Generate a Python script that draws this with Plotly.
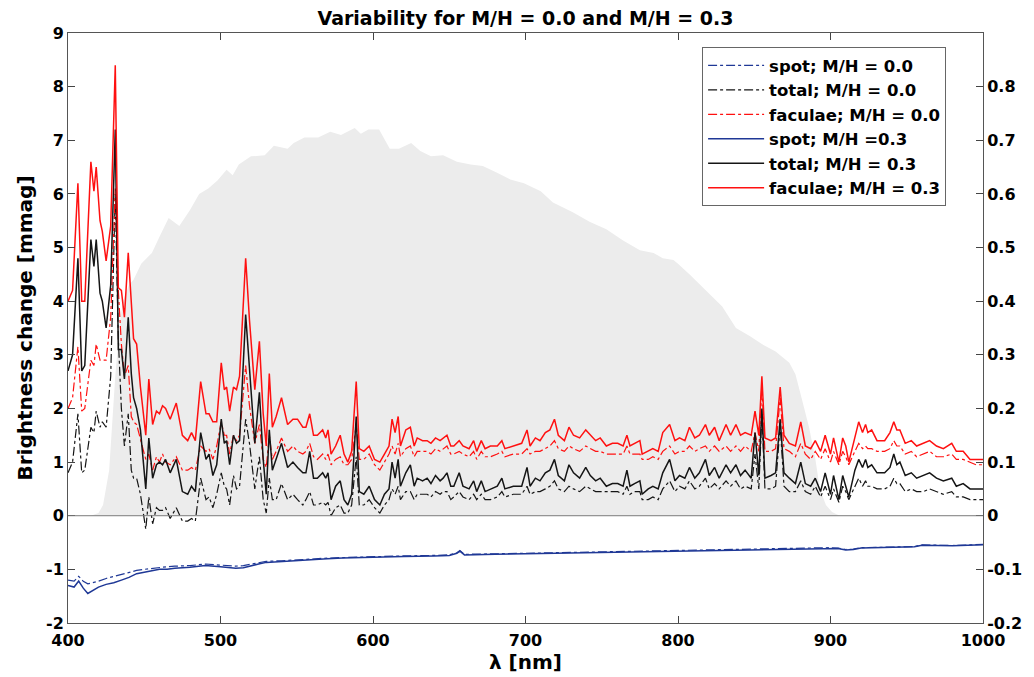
import plotly.graph_objects as go

# ---------------- data ----------------
wavelength = [
    400, 403, 406.5, 409, 411, 415, 417, 418.5, 421, 422.5, 425, 428, 431, 433, 435, 437, 439.5, 441.5, 443, 445,
    447.5, 451, 453, 455.5, 458, 460, 462, 464, 467, 471, 475, 478.5, 481, 483.5, 487, 490.5, 492.5, 495, 497.5,
    500.5, 502.5, 504, 506, 508.5, 510.5, 512.5, 516.5, 519, 522.5, 525.5, 528, 530, 532, 534, 536.5, 540, 544,
    547.5, 550.5, 554, 556, 558.5, 561, 563.5, 567, 569, 570.5, 572.5, 575.5, 578.5, 581, 583.5, 586, 589, 591, 594,
    597.5, 601, 604.5, 607.5, 610.5, 612.5, 614.5, 616.5, 618, 621.5, 624.5, 627, 629, 632.5, 635.5, 638, 641, 644,
    646, 648.5, 651, 653, 656.5, 659, 663, 666, 668, 671, 673.5, 677, 681.5, 684.5, 686.5,
    692, 697.5, 701, 703, 706.5, 709.5, 713, 716, 719, 721.5, 725.5, 728.5, 731.5, 735.5, 739.5, 742.5, 746, 749,
    753, 757, 760.5, 764, 766.5, 768.5, 771.5, 775, 776.5, 780.5, 783.5, 787, 790,
    794.5, 798, 801, 804.5, 807.5, 811, 814, 818, 820.5, 824, 827, 831.5, 834.5, 838, 841, 844, 848, 850.5, 853, 855,
    857, 861, 864, 867, 869.5, 873, 877, 880.5, 883.5, 887,
    890, 893.5, 896.5, 900, 902, 905.5, 908, 910, 912, 916, 918.5, 921, 923, 924.5, 927, 930.5, 935.5, 939, 941.5,
    943.5, 945.5, 949, 953, 956.5, 961, 965, 969.5, 974, 979.5, 982.5, 987, 991.5, 995.5, 1000,
]

faculae_03 = [
    4.0, 4.2, 6.2, 4.0, 4.0, 6.6, 6.05, 6.5, 5.5, 5.3, 4.75, 5.4, 8.4, 4.25, 4.2, 3.7, 4.9, 4.05, 3.3, 3.2,
    2.4, 1.5, 2.55, 1.7, 1.95, 1.9, 2.05, 2.0, 1.8, 2.1, 1.5, 1.4, 1.55, 1.4, 2.5, 1.9, 1.9, 1.75, 1.75,
    2.85, 2.35, 2.4, 1.95, 2.4, 2.35, 2.6, 4.8, 3.65, 2.35, 3.25, 1.9, 1.3, 2.65, 1.65, 1.85, 2.2, 1.7,
    1.8, 1.8, 1.65, 1.65, 1.9, 1.5, 1.5, 1.6, 1.45, 1.6, 1.15, 1.3, 1.5, 1.15, 1.0, 1.2, 2.5, 1.25, 1.2,
    1.3, 1.05, 1.0, 1.15, 1.3, 1.8, 1.55, 1.85, 1.3, 1.6, 1.65, 1.3, 1.45, 1.4, 1.4, 1.35, 1.45, 1.4,
    1.45, 1.5, 1.3, 1.3, 1.4, 1.3, 1.25, 1.4, 1.2, 1.4, 1.25, 1.3, 1.3, 1.4, 1.25,
    1.3, 1.35, 1.6, 1.3, 1.45, 1.4, 1.55, 1.6, 1.8, 1.5, 1.4, 1.65, 1.5, 1.45, 1.6, 1.5, 1.4, 1.45,
    1.3, 1.35, 1.35, 1.3, 1.5, 1.3, 1.35, 1.4, 1.15, 1.2, 1.25, 1.2, 1.55,
    1.7, 1.4, 1.45, 1.4, 1.65, 1.45, 1.5, 1.7, 1.5, 1.65, 1.4, 1.7, 1.5, 1.7, 1.5, 1.55, 1.5, 1.95, 1.5, 2.6,
    1.45, 1.4, 1.45, 2.4, 1.5, 1.35, 1.3, 1.75, 1.3, 1.25,
    1.4, 1.2, 1.5, 1.15, 1.45, 1.0, 1.45, 1.3, 1.0, 1.5, 1.75, 1.55, 1.7, 1.55, 1.6, 1.4, 1.4, 1.55, 1.75,
    1.6, 1.6, 1.35, 1.4, 1.3, 1.35, 1.4, 1.3, 1.25, 1.35, 1.2, 1.2, 1.05, 1.05, 1.05,
]

total_03 = [
    2.7, 3.0, 4.8, 2.7, 2.8, 5.15, 4.65, 5.15, 4.15, 4.0, 3.5, 4.3, 7.2, 3.1, 3.1, 2.55, 3.7, 2.65, 2.2, 2.0,
    1.6, 0.5, 1.45, 0.7, 0.95, 1.0, 0.95, 1.05, 0.8, 1.05, 0.45, 0.4, 0.55, 0.45, 1.55, 1.05, 1.15, 0.75, 0.95,
    1.8, 1.35, 1.4, 0.95, 1.5, 1.35, 1.4, 3.75, 2.7, 1.35, 2.3, 1.05, 0.4, 1.6, 0.85, 1.05, 1.35, 0.9,
    1.0, 0.9, 0.8, 0.8, 1.2, 0.7, 0.7, 0.8, 0.7, 0.8, 0.3, 0.55, 0.65, 0.3, 0.2, 0.4, 1.85, 0.45, 0.4,
    0.55, 0.3, 0.2, 0.4, 0.5, 1.0, 0.7, 1.05, 0.55, 0.8, 0.95, 0.55, 0.7, 0.65, 0.7, 0.6, 0.75, 0.65,
    0.7, 0.8, 0.55, 0.55, 0.8, 0.55, 0.5, 0.65, 0.45, 0.65, 0.45, 0.5, 0.55, 0.7, 0.5,
    0.55, 0.55, 0.9, 0.55, 0.7, 0.65, 0.8, 0.85, 1.05, 0.75, 0.65, 0.95, 0.8, 0.7, 0.9, 0.75, 0.65, 0.7,
    0.55, 0.6, 0.6, 0.55, 0.85, 0.55, 0.6, 0.65, 0.4, 0.5, 0.55, 0.5, 0.8,
    1.05, 0.65, 0.75, 0.7, 0.9, 0.7, 0.8, 1.05, 0.75, 0.9, 0.7, 0.95, 0.8, 0.95, 0.75, 0.85, 0.7, 1.55, 0.75, 2.0,
    0.7, 0.75, 0.8, 1.8, 0.8, 0.7, 0.6, 1.0, 0.6, 0.55,
    0.7, 0.45, 0.8, 0.4, 0.75, 0.3, 0.75, 0.55, 0.35, 0.85, 1.05, 0.9, 1.05, 0.9, 0.95, 0.8, 0.8, 0.9, 1.15,
    0.95, 1.0, 0.75, 0.8, 0.7, 0.75, 0.8, 0.7, 0.65, 0.7, 0.55, 0.6, 0.5, 0.5, 0.5,
]

faculae_00 = [
    2.0, 2.2, 3.15, 1.95, 2.0, 2.9, 2.8, 3.2, 2.9, 2.9, 2.9, 3.7, 6.1, 4.2, 3.2, 2.6, 2.8, 1.85, 1.75, 1.7,
    1.45, 1.05, 1.15, 0.85, 1.1, 1.0, 1.15, 1.0, 0.95, 1.1, 0.85, 0.85, 0.9, 0.85, 1.3, 1.2, 1.25, 1.05, 1.3,
    1.75, 1.5, 1.5, 1.15, 1.5, 1.4, 1.5, 2.8, 2.05, 1.35, 1.7, 1.05, 0.9, 1.5, 1.05, 1.2, 1.45, 1.2,
    1.3, 1.2, 1.15, 1.2, 1.35, 1.1, 1.05, 1.15, 1.05, 1.15, 0.95, 1.05, 1.1, 0.95, 0.95, 1.05, 1.7, 1.05, 1.05,
    1.15, 0.95, 0.85, 1.0, 1.15, 1.3, 1.15, 1.35, 1.1, 1.25, 1.3, 1.1, 1.2, 1.2, 1.2, 1.15, 1.25, 1.2,
    1.25, 1.3, 1.15, 1.15, 1.2, 1.15, 1.1, 1.2, 1.05, 1.2, 1.1, 1.1, 1.15, 1.2, 1.1,
    1.15, 1.15, 1.25, 1.15, 1.2, 1.2, 1.25, 1.3, 1.4, 1.25, 1.2, 1.3, 1.25, 1.2, 1.3, 1.25, 1.2, 1.2,
    1.15, 1.15, 1.15, 1.15, 1.3, 1.15, 1.15, 1.15, 1.05, 1.05, 1.1, 1.05, 1.2,
    1.3, 1.15, 1.2, 1.2, 1.3, 1.2, 1.25, 1.3, 1.2, 1.3, 1.2, 1.3, 1.2, 1.3, 1.2, 1.3, 1.2, 1.55, 1.2, 2.45,
    1.2, 1.2, 1.25, 2.2, 1.25, 1.2, 1.1, 1.35, 1.15, 1.05,
    1.2, 1.05, 1.25, 1.0, 1.2, 0.95, 1.2, 1.1, 0.95, 1.2, 1.35, 1.25, 1.3, 1.25, 1.25, 1.2, 1.2, 1.25, 1.4,
    1.3, 1.3, 1.15, 1.2, 1.1, 1.15, 1.2, 1.1, 1.1, 1.15, 1.05, 1.05, 1.0, 0.95, 0.95,
]

total_00 = [
    0.8, 1.0, 1.9, 0.8, 0.85, 1.65, 1.55, 1.95, 1.65, 1.75, 1.65, 2.6, 6.0, 3.3, 2.0, 1.3, 1.9, 0.85, 0.7, 0.7,
    0.4, -0.25, 0.35, -0.15, 0.15, 0.1, 0.1, 0.15, -0.05, 0.15, -0.1, -0.1, -0.05, -0.1, 0.7, 0.3, 0.35, 0.15, 0.4,
    0.8, 0.55, 0.5, 0.2, 0.75, 0.5, 0.55, 1.8, 1.35, 0.5, 1.1, 0.3, 0.05, 0.7, 0.3, 0.3, 0.6, 0.3,
    0.4, 0.3, 0.2, 0.3, 0.45, 0.2, 0.2, 0.25, 0.2, 0.25, 0.0, 0.15, 0.2, 0.05, 0.05, 0.2, 1.1, 0.2, 0.2,
    0.3, 0.15, 0.05, 0.2, 0.3, 0.5, 0.4, 0.55, 0.3, 0.45, 0.45, 0.3, 0.4, 0.4, 0.4, 0.35, 0.45, 0.4,
    0.45, 0.45, 0.3, 0.35, 0.45, 0.35, 0.3, 0.4, 0.3, 0.4, 0.3, 0.3, 0.35, 0.45, 0.35,
    0.4, 0.4, 0.55, 0.4, 0.45, 0.45, 0.5, 0.55, 0.65, 0.5, 0.45, 0.55, 0.5, 0.45, 0.55, 0.5, 0.45, 0.45,
    0.45, 0.45, 0.45, 0.4, 0.55, 0.4, 0.45, 0.45, 0.3, 0.3, 0.35, 0.3, 0.5,
    0.65, 0.45, 0.55, 0.5, 0.65, 0.5, 0.55, 0.7, 0.5, 0.6, 0.5, 0.65, 0.55, 0.65, 0.5, 0.55, 0.5, 1.15, 0.5, 1.9,
    0.5, 0.5, 0.55, 1.7, 0.55, 0.45, 0.45, 0.65, 0.45, 0.4,
    0.55, 0.35, 0.55, 0.3, 0.5, 0.25, 0.55, 0.45, 0.3, 0.55, 0.7, 0.55, 0.65, 0.55, 0.55, 0.5, 0.5, 0.55, 0.7,
    0.6, 0.6, 0.45, 0.5, 0.45, 0.45, 0.5, 0.45, 0.4, 0.45, 0.35, 0.35, 0.3, 0.3, 0.3,
]

spot_wavelength = [
    400, 404, 407, 410, 413, 416, 420, 425, 430, 435, 440, 445, 450, 455, 460, 465, 470, 480, 490, 500,
    505, 510, 515, 520, 525, 530, 540, 550, 560, 570, 580, 590, 600, 620, 640, 650, 655, 657, 660, 670,
    680, 700, 720, 740, 760, 780, 800, 820, 840, 860, 880, 900, 905, 910, 915, 920, 940, 955, 960, 980, 1000,
]
spot_03 = [
    -1.3, -1.33, -1.22, -1.35, -1.45, -1.4, -1.33, -1.28, -1.25, -1.2, -1.15, -1.08, -1.05, -1.03, -1.0, -1.0,
    -0.98, -0.96, -0.93, -0.95, -0.97, -0.98, -0.97, -0.93, -0.9, -0.87, -0.85, -0.83, -0.81, -0.8, -0.79,
    -0.78, -0.77, -0.76, -0.75, -0.74, -0.7, -0.66, -0.73, -0.73, -0.72, -0.71, -0.7, -0.68, -0.67, -0.66,
    -0.65, -0.64, -0.63, -0.62, -0.61, -0.6, -0.61, -0.64, -0.63, -0.6, -0.59, -0.58, -0.55, -0.56, -0.54,
]
spot_00 = [
    -1.2, -1.22, -1.13, -1.22, -1.27, -1.25, -1.22, -1.17, -1.13, -1.1, -1.06, -1.02, -1.0, -0.98, -0.96, -0.95,
    -0.94, -0.93, -0.9, -0.92, -0.93, -0.94, -0.93, -0.9, -0.87, -0.85, -0.84, -0.82, -0.8, -0.79, -0.78,
    -0.77, -0.76, -0.75, -0.74, -0.73, -0.69, -0.65, -0.72, -0.72, -0.71, -0.7, -0.69, -0.67, -0.66, -0.65,
    -0.64, -0.63, -0.62, -0.615, -0.605, -0.595, -0.605, -0.63, -0.62, -0.595, -0.585, -0.575, -0.545, -0.555, -0.535,
]

response_wavelength = [
    400, 415, 420, 423, 427, 431, 434, 436, 440, 443, 448, 455, 460, 466, 473, 480, 486, 492, 498, 504,
    508, 512, 520, 529, 535, 544, 548, 555, 564, 572, 579, 588, 592, 597, 604, 611, 617, 625, 631, 638,
    646, 655, 664, 672, 681, 690, 699, 710, 718, 731, 742, 753, 764, 775, 784, 790, 797, 800, 808, 818,
    829, 838, 847, 855, 864, 873, 877, 881, 886, 890, 893, 897, 901, 906, 1000,
]
response = [
    0, 0, 0.005, 0.02, 0.085, 0.26, 0.36, 0.4, 0.43, 0.44, 0.47, 0.49, 0.52, 0.555, 0.54, 0.57, 0.6, 0.61,
    0.625, 0.645, 0.635, 0.655, 0.67, 0.672, 0.69, 0.684, 0.695, 0.705, 0.705, 0.716, 0.71, 0.723, 0.712,
    0.72, 0.72, 0.684, 0.684, 0.695, 0.68, 0.67, 0.672, 0.66, 0.655, 0.652, 0.64, 0.627, 0.62, 0.605, 0.584,
    0.566, 0.548, 0.534, 0.513, 0.495, 0.49, 0.48, 0.477, 0.47, 0.449, 0.42, 0.39, 0.35, 0.335, 0.32, 0.306,
    0.285, 0.264, 0.22, 0.164, 0.107, 0.05, 0.02, 0.007, 0, 0,
]

left_ticks = list(range(-2, 10))
right_ticks = [-0.2, -0.1, 0, 0.1, 0.2, 0.3, 0.4, 0.5, 0.6, 0.7, 0.8]
x_ticks = [400, 500, 600, 700, 800, 900, 1000]

for name, s in [("faculae_03", faculae_03), ("total_03", total_03),
                ("faculae_00", faculae_00), ("total_00", total_00)]:
    if len(s) != len(wavelength):
        print("length mismatch", name, len(s), len(wavelength))

# ---------------- figure ----------------
RED = "#ff1010"
BLACK = "#151515"
BLUE = "#1f3896"
FONT = "DejaVu Sans"

fig = go.Figure()

# gray response function (right axis, drawn underneath)
fig.add_trace(go.Scatter(
    x=response_wavelength, y=response, mode="lines", fill="tozeroy",
    fillcolor="#ececec", line=dict(color="#ececec", width=0),
    showlegend=False, hoverinfo="skip", yaxis="y",
))

series = [
    ("spot; M/H = 0.0", spot_wavelength, spot_00, BLUE, "dashdot", 1.2),
    ("total; M/H = 0.0", wavelength, total_00, BLACK, "dashdot", 1.2),
    ("faculae; M/H = 0.0", wavelength, faculae_00, RED, "dashdot", 1.2),
    ("spot; M/H =0.3", spot_wavelength, spot_03, BLUE, "solid", 1.5),
    ("total; M/H = 0.3", wavelength, total_03, BLACK, "solid", 1.5),
    ("faculae; M/H = 0.3", wavelength, faculae_03, RED, "solid", 1.5),
]
for i, (name, xs, ys, color, dash, w) in enumerate(series):
    fig.add_trace(go.Scatter(
        x=xs, y=ys, mode="lines", name=name, yaxis="y2", legendgroup=f"g{i}",
        line=dict(color=color, dash=dash, width=w),
    ))

fig.add_shape(type="line", xref="paper", x0=0, x1=1, yref="y2", y0=0, y1=0,
              line=dict(color="#7a7a7a", width=1), layer="above")

tickfont = dict(family=FONT, size=16, color="black", weight="bold")

# page body adds an 8px offset, so the figure is 8px smaller than the window
fig.update_layout(
    width=1026, height=669,
    margin=dict(l=60, r=45, t=25, b=54),
    paper_bgcolor="white", plot_bgcolor="white",
    font=dict(family=FONT, size=14, color="black"),
    title=dict(text="<b>Variability for M/H = 0.0 and M/H = 0.3</b>",
               font=dict(family=FONT, size=19, color="black"),
               x=0.5, xref="paper", xanchor="center", y=0.985, yanchor="middle"),
    xaxis=dict(range=[400, 1000], tickvals=x_ticks, ticks="inside", ticklen=7,
               tickcolor="#444", showline=True, linecolor="#555", linewidth=1,
               mirror="ticks", showgrid=False, zeroline=False, tickfont=tickfont,
               ticklabelstandoff=3,
               title=dict(text="<b>λ [nm]</b>", font=dict(family=FONT, size=20), standoff=0)),
    yaxis=dict(range=[-0.2, 0.9], side="right", tickvals=right_ticks,
               ticktext=["%g" % v for v in right_ticks],
               ticks="inside", ticklen=7, tickcolor="#444", showgrid=False,
               zeroline=False, showline=True, linecolor="#555", tickfont=tickfont),
    yaxis2=dict(range=[-2, 9], side="left", overlaying="y", tickvals=left_ticks,
                ticktext=[str(v) for v in left_ticks], ticks="inside", ticklen=7,
                tickcolor="#444", showgrid=False, zeroline=False, showline=True,
                linecolor="#555", tickfont=tickfont,
                title=dict(text="<b>Brightness change [mmag]</b>",
                           font=dict(family=FONT, size=20), standoff=8)),
    legend=dict(x=0.693, y=0.976, xanchor="left", yanchor="top",
                bgcolor="white", bordercolor="#666", borderwidth=1,
                font=dict(family=FONT, size=16.5, color="black", weight="bold"),
                tracegroupgap=14, itemwidth=56, traceorder="normal"),
)

fig.write_html("out.html")
